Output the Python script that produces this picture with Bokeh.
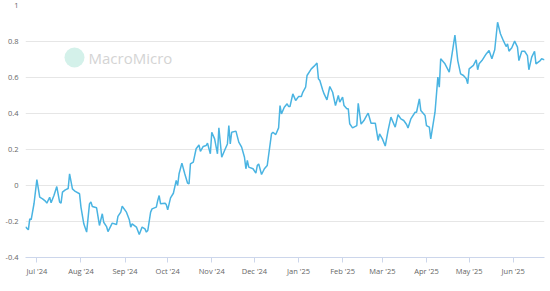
import pandas as pd
from bokeh.plotting import figure
from bokeh.models import (Range1d, MonthsTicker, DatetimeTickFormatter, FixedTicker,
                          CustomJSTickFormatter, Label, BoxAnnotation, ColumnDataSource)
from bokeh.embed import file_html
from bokeh.resources import INLINE

dates = [
    "2024-06-23", "2024-06-25", "2024-06-26", "2024-06-27", "2024-06-29",
    "2024-07-01", "2024-07-03", "2024-07-05", "2024-07-07", "2024-07-08", "2024-07-10", "2024-07-11", "2024-07-13", "2024-07-15",
    "2024-07-17", "2024-07-18", "2024-07-19", "2024-07-21", "2024-07-23", "2024-07-24", "2024-07-26", "2024-07-28", "2024-07-31",
    "2024-08-01", "2024-08-03", "2024-08-05", "2024-08-07", "2024-08-08", "2024-08-09", "2024-08-12", "2024-08-14", "2024-08-16",
    "2024-08-17", "2024-08-19", "2024-08-20", "2024-08-23", "2024-08-26", "2024-08-27", "2024-08-29", "2024-08-30",
    "2024-09-02", "2024-09-04", "2024-09-05", "2024-09-06", "2024-09-09", "2024-09-11", "2024-09-13", "2024-09-15", "2024-09-16",
    "2024-09-17", "2024-09-19", "2024-09-20", "2024-09-23", "2024-09-24", "2024-09-25", "2024-09-26", "2024-09-29", "2024-09-30",
    "2024-10-01", "2024-10-03", "2024-10-05", "2024-10-07", "2024-10-08", "2024-10-09", "2024-10-11", "2024-10-13", "2024-10-15",
    "2024-10-16", "2024-10-17", "2024-10-19", "2024-10-21", "2024-10-23", "2024-10-24", "2024-10-26", "2024-10-28", "2024-10-29", "2024-10-31",
    "2024-11-01", "2024-11-03", "2024-11-05", "2024-11-06", "2024-11-08", "2024-11-10", "2024-11-12", "2024-11-13", "2024-11-14",
    "2024-11-15", "2024-11-18", "2024-11-20", "2024-11-22", "2024-11-24", "2024-11-25", "2024-11-26", "2024-11-27", "2024-11-30",
    "2024-12-02", "2024-12-03", "2024-12-04", "2024-12-06", "2024-12-08", "2024-12-10", "2024-12-13", "2024-12-14", "2024-12-16",
    "2024-12-18", "2024-12-19", "2024-12-20", "2024-12-22", "2024-12-24", "2024-12-25", "2024-12-26", "2024-12-28", "2024-12-29", "2024-12-30",
    "2025-01-01", "2025-01-03", "2025-01-04", "2025-01-06", "2025-01-07", "2025-01-10", "2025-01-12", "2025-01-14", "2025-01-15",
    "2025-01-16", "2025-01-18", "2025-01-19", "2025-01-21", "2025-01-23", "2025-01-25", "2025-01-27", "2025-01-29", "2025-01-30",
    "2025-02-01", "2025-02-02", "2025-02-04", "2025-02-05", "2025-02-06", "2025-02-08", "2025-02-11", "2025-02-12",
    "2025-02-14", "2025-02-16", "2025-02-18", "2025-02-19", "2025-02-21", "2025-02-24", "2025-02-26", "2025-02-27",
    "2025-03-01", "2025-03-03", "2025-03-05", "2025-03-07", "2025-03-10", "2025-03-12", "2025-03-14", "2025-03-16",
    "2025-03-18", "2025-03-19", "2025-03-21", "2025-03-24", "2025-03-25", "2025-03-27", "2025-03-28", "2025-03-31",
    "2025-04-01", "2025-04-03", "2025-04-04", "2025-04-07", "2025-04-09", "2025-04-10", "2025-04-11", "2025-04-14",
    "2025-04-17", "2025-04-19", "2025-04-21", "2025-04-23", "2025-04-25", "2025-04-27", "2025-04-29", "2025-04-30",
    "2025-05-01", "2025-05-04", "2025-05-06", "2025-05-07", "2025-05-08", "2025-05-10", "2025-05-13", "2025-05-15", "2025-05-17",
    "2025-05-19", "2025-05-21", "2025-05-23", "2025-05-25", "2025-05-27", "2025-05-28", "2025-05-29", "2025-05-31",
    "2025-06-02", "2025-06-04", "2025-06-05", "2025-06-07", "2025-06-09", "2025-06-11", "2025-06-12", "2025-06-14",
    "2025-06-16", "2025-06-17", "2025-06-20", "2025-06-21", "2025-06-23",
]

values = [
    -0.23, -0.246, -0.185, -0.19, -0.10,
    0.033, -0.065, -0.074, -0.087, -0.098, -0.065, -0.096, -0.056, -0.006,
    -0.093, -0.098, -0.037, -0.024, -0.017, 0.065, -0.019, -0.033, -0.046,
    -0.12, -0.213, -0.259, -0.102, -0.091, -0.117, -0.124, -0.222, -0.157,
    -0.204, -0.228, -0.256, -0.209, -0.217, -0.172, -0.148, -0.115,
    -0.148, -0.19, -0.231, -0.213, -0.231, -0.272, -0.231, -0.241, -0.259,
    -0.25, -0.148, -0.13, -0.12, -0.083, -0.056, -0.102, -0.098, -0.106,
    -0.135, -0.069, -0.043, 0.028, 0.0, 0.065, 0.124, 0.065, 0.013,
    0.009, 0.12, 0.13, 0.204, 0.225, 0.19, 0.217, 0.222, 0.235, 0.176,
    0.296, 0.259, 0.176, 0.32, 0.157, 0.194, 0.231, 0.333, 0.231,
    0.296, 0.302, 0.241, 0.213, 0.157, 0.093, 0.139, 0.102, 0.093,
    0.069, 0.111, 0.12, 0.061, 0.093, 0.111, 0.287, 0.296, 0.283,
    0.32, 0.444, 0.398, 0.435, 0.454, 0.439, 0.439, 0.509, 0.491, 0.472,
    0.494, 0.494, 0.518, 0.546, 0.611, 0.648, 0.663, 0.68, 0.593,
    0.583, 0.531, 0.509, 0.476, 0.55, 0.518, 0.444, 0.5, 0.463,
    0.491, 0.444, 0.426, 0.426, 0.343, 0.32, 0.333, 0.457,
    0.341, 0.361, 0.389, 0.402, 0.346, 0.346, 0.25, 0.287,
    0.259, 0.219, 0.306, 0.38, 0.324, 0.394, 0.37, 0.361,
    0.339, 0.32, 0.37, 0.407, 0.407, 0.481, 0.417, 0.389,
    0.333, 0.324, 0.259, 0.407, 0.602, 0.546, 0.704, 0.676,
    0.63, 0.731, 0.836, 0.694, 0.62, 0.611, 0.593, 0.565,
    0.648, 0.667, 0.698, 0.643, 0.676, 0.694, 0.731, 0.75, 0.704,
    0.754, 0.907, 0.843, 0.806, 0.772, 0.787, 0.746, 0.765,
    0.802, 0.769, 0.694, 0.746, 0.746, 0.722, 0.643, 0.713,
    0.746, 0.676, 0.694, 0.704, 0.698,
]

y_ticks = [-0.4, -0.2, 0, 0.2, 0.4, 0.6, 0.8, 1]
y_min, y_max = -0.4, 1.0
watermark = "MacroMicro"

FONT = "Open Sans"
LABEL_COLOR = "#666666"

x = pd.to_datetime(dates)
src = ColumnDataSource(dict(x=x, y=values))

p = figure(width=550, height=291, x_axis_type="datetime",
           output_backend="svg", toolbar_location=None,
           x_range=Range1d(x.min(), x.max()), y_range=Range1d(y_min, y_max),
           min_border_left=25, min_border_right=6, min_border_top=5, min_border_bottom=34)
p.outline_line_color = None
p.background_fill_color = "white"
p.border_fill_color = "white"

# watermark
p.add_layout(BoxAnnotation(left=39, right=59, bottom=190, top=210,
                           left_units="screen", right_units="screen",
                           bottom_units="screen", top_units="screen",
                           fill_color="#d4f1ea", fill_alpha=1.0, line_color=None,
                           border_radius=10, level="underlay"))
p.add_layout(Label(x=63, y=200, x_units="screen", y_units="screen", text=watermark,
                   text_font=FONT, text_font_size="15px", text_color="#d4d4d4",
                   text_baseline="middle", text_align="left", level="underlay"))

p.line("x", "y", source=src, line_color="#4ab4e2", line_width=1.5)

# grid
p.xgrid.grid_line_color = None
p.ygrid.grid_line_color = "#e6e6e6"
p.ygrid.grid_line_width = 1

# y axis
p.yaxis.ticker = FixedTicker(ticks=y_ticks)
p.yaxis.formatter = CustomJSTickFormatter(code="return (Math.round(tick*10)/10).toString();")
p.yaxis.axis_line_color = None
p.yaxis.major_tick_line_color = None
p.yaxis.minor_tick_line_color = None
p.yaxis.major_tick_out = 0
p.yaxis.major_tick_in = 0
p.yaxis.major_label_standoff = 7
p.yaxis.major_label_text_font = FONT
p.yaxis.major_label_text_font_size = "7.5px"
p.yaxis.major_label_text_color = LABEL_COLOR

# x axis
p.xaxis.ticker = MonthsTicker(months=list(range(12)))
p.xaxis.formatter = DatetimeTickFormatter(months="%b '%y", days="%b '%y")
p.xaxis.axis_line_color = "#ccd6eb"
p.xaxis.major_tick_line_color = "#ccd6eb"
p.xaxis.major_tick_out = 5
p.xaxis.major_tick_in = 0
p.xaxis.minor_tick_line_color = None
p.xaxis.major_label_standoff = 3
p.xaxis.major_label_text_font = FONT
p.xaxis.major_label_text_font_size = "7.5px"
p.xaxis.major_label_text_color = LABEL_COLOR

open("out.html", "w").write(file_html(p, INLINE))
